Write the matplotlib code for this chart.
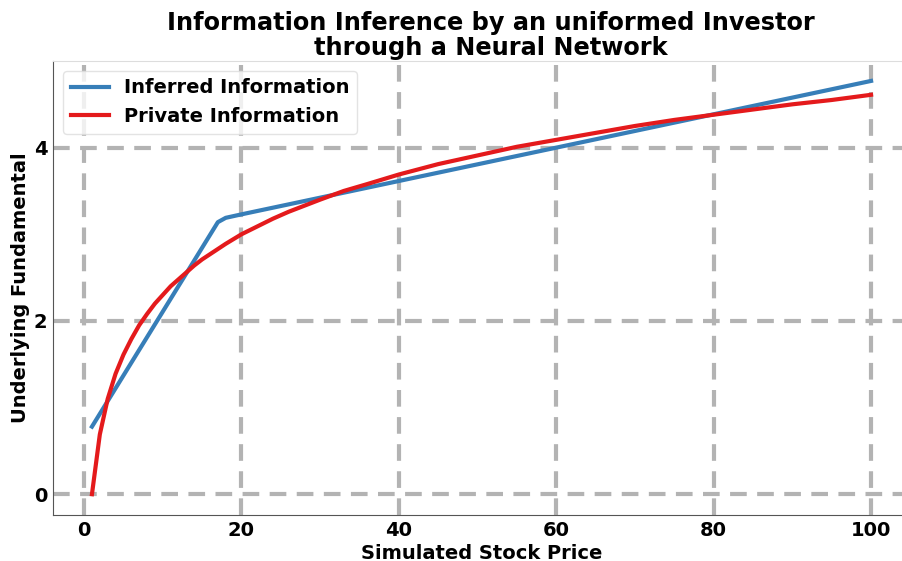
import matplotlib
matplotlib.use("Agg")
import matplotlib.pyplot as plt

# Inferred information (blue)
inferred_x = [1, 17, 18, 20, 100]
inferred_y = [0.78, 3.14, 3.19, 3.23, 4.77]

# Private information (red)
private_x = [1, 2, 3, 4, 5, 6, 7, 8, 9, 10, 11, 12, 13, 14, 15, 16, 18, 20, 22, 24, 26, 28, 30,
             33, 36, 40, 45, 50, 55, 60, 65, 70, 75, 80, 85, 90, 95, 100]
private_y = [0.0, 0.69, 1.10, 1.39, 1.61, 1.79, 1.95, 2.08, 2.20, 2.30, 2.40, 2.48, 2.56, 2.64,
             2.71, 2.77, 2.89, 3.00, 3.09, 3.18, 3.26, 3.33, 3.40,
             3.50, 3.58, 3.69, 3.81, 3.91, 4.01, 4.09, 4.17, 4.25, 4.32, 4.38, 4.44, 4.50,
             4.55, 4.61]

x_ticks = [0, 20, 40, 60, 80, 100]
y_ticks = [0, 2, 4]

fig = plt.figure(figsize=(9.02, 5.61), dpi=100)
ax = fig.add_axes([53/902, 1 - 515/561, (910 - 53)/902, (515 - 61)/561])

ax.plot(inferred_x, inferred_y, color="#377eb8", lw=3, label="Inferred Information")
ax.plot(private_x, private_y, color="#e41a1c", lw=3, label="Private Information")

ax.set_xlim(-3.95, 104.95)
ax.set_ylim(-0.24, 5.0)
ax.set_xticks(x_ticks)
ax.set_yticks(y_ticks)
ax.tick_params(length=0, labelsize=14, pad=4)
for lbl in ax.get_xticklabels() + ax.get_yticklabels():
    lbl.set_fontweight("bold")

ax.grid(True, color="#b3b3b3", linestyle=(0, (4, 2.5)), linewidth=3)
ax.set_axisbelow(True)

ax.spines["left"].set_color("#555555")
ax.spines["bottom"].set_color("#555555")
ax.spines["top"].set_color("#dddddd")
ax.spines["right"].set_color("#dddddd")

ax.set_xlabel("Simulated Stock Price", fontsize=14, fontweight="bold", labelpad=3)
ax.set_ylabel("Underlying Fundamental", fontsize=14, fontweight="bold", labelpad=3)
ax.set_title("Information Inference by an uniformed Investor\nthrough a Neural Network",
             fontsize=17.3, fontweight="bold", x=(491 - 53)/(910 - 53), pad=4, linespacing=1.1)

leg = ax.legend(loc="upper left", prop={"weight": "bold", "size": 14}, frameon=True,
                handlelength=2.0, handletextpad=0.75)
leg.get_frame().set_edgecolor("#dddddd")

fig.savefig("out.png", dpi=100)
